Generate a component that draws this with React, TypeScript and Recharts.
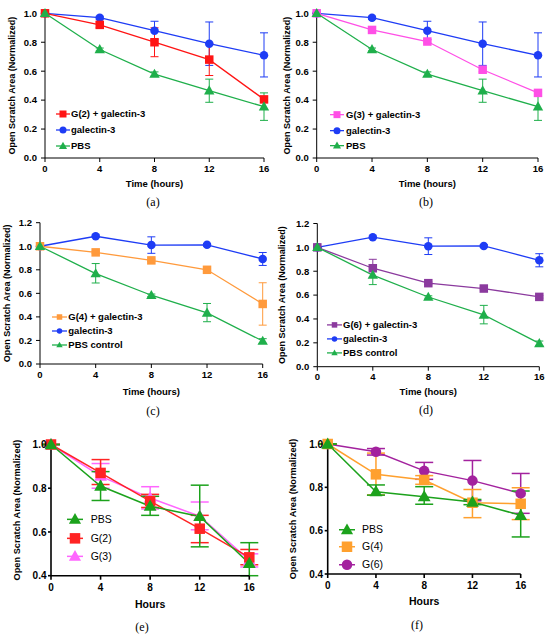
import React from 'react';
import { LineChart, Line, XAxis, YAxis, ErrorBar, Legend, Label } from 'recharts';

const FONT = '"Liberation Sans", Arial, Helvetica, sans-serif';
const SERIF = '"Liberation Serif", "Times New Roman", serif';

// ---------- shared axes ----------
const hours = [0, 4, 8, 12, 16];
const xTicks = [0, 4, 8, 12, 16];
const yTicksAB = [0, 0.2, 0.4, 0.6, 0.8, 1.0];
const yTicksCD = [0, 0.2, 0.4, 0.6, 0.8, 1.0, 1.2];
const yTicksEF = [0.4, 0.6, 0.8, 1.0];

// ---------- panels (a), (b) ----------
const galAB = [1.0, 0.97, 0.88, 0.79, 0.71];
const galABErr = [[0, 0], [0.01, 0.01], [0.06, 0.065], [0.15, 0.15], [0.15, 0.155]];
const pbsAB = [1.0, 0.75, 0.58, 0.465, 0.355];
const pbsABErr = [[0, 0], [0.01, 0.01], [0.015, 0.015], [0.08, 0.08], [0.095, 0.095]];
const g2Gal = [1.0, 0.92, 0.8, 0.68, 0.405];
const g2GalErr = [[0, 0], [0.02, 0.02], [0.1, 0.1], [0.11, 0.11], [0.02, 0.02]];
const g3Gal = [1.0, 0.885, 0.805, 0.61, 0.45];
const g3GalErr = [[0, 0], [0.01, 0.01], [0.01, 0.01], [0.015, 0.015], [0.01, 0.01]];

// ---------- panels (c), (d) ----------
const galCD = [1.0, 1.085, 1.01, 1.012, 0.892];
const galCDErr = [[0, 0], [0.01, 0.01], [0.07, 0.07], [0.01, 0.01], [0.055, 0.055]];
const pbsCD = [1.0, 0.768, 0.584, 0.434, 0.195];
const pbsCDErr = [[0, 0], [0.08, 0.085], [0.01, 0.01], [0.075, 0.08], [0.02, 0.02]];
const g4Gal = [1.0, 0.948, 0.88, 0.8, 0.51];
const g4GalErr = [[0, 0], [0.01, 0.01], [0.01, 0.01], [0.01, 0.01], [0.18, 0.18]];
const g6Gal = [1.0, 0.825, 0.7, 0.655, 0.585];
const g6GalErr = [[0, 0], [0.075, 0.075], [0.01, 0.01], [0.01, 0.01], [0.01, 0.01]];

// ---------- panel (e) ----------
const pbsE = [1.0, 0.81, 0.718, 0.671, 0.456];
const pbsEErr = [[0, 0], [0.066, 0.066], [0.042, 0.045], [0.139, 0.143], [0.056, 0.095]];
const g2E = [1.0, 0.87, 0.741, 0.615, 0.484];
const g2EErr = [[0, 0], [0.053, 0.061], [0.029, 0.031], [0.064, 0.061], [0.034, 0.036]];
const g3E = [1.0, 0.855, 0.755, 0.672, 0.47];
const g3EErr = [[0, 0], [0.055, 0.058], [0.05, 0.052], [0.062, 0.065], [0.03, 0.03]];

// ---------- panel (f) ----------
const pbsF = [1.0, 0.78, 0.757, 0.732, 0.671];
const pbsFErr = [[0, 0], [0.016, 0.031], [0.035, 0.046], [0.012, 0.012], [0.1, 0.112]];
const g4F = [1.0, 0.86, 0.834, 0.729, 0.724];
const g4FErr = [[0, 0], [0.095, 0.098], [0.02, 0.02], [0.069, 0.061], [0.073, 0.074]];
const g6F = [1.0, 0.964, 0.876, 0.831, 0.772];
const g6FErr = [[0, 0], [0.015, 0.015], [0.039, 0.039], [0.093, 0.093], [0.092, 0.092]];

// ---------- colours ----------
const RED = '#FF1414';
const BLUE = '#1E3CF5';
const GREEN = '#1FAF4B';
const MAGENTA = '#FF4FE6';
const ORANGE = '#FF9A3C';
const PURPLE = '#8B3A9E';
const GREEN_P = '#1CA21C';
const RED_P = '#FF2424';
const MAGENTA_P = '#FF66FF';
const ORANGE_P = '#FFA02E';
const PURPLE_P = '#A3229E';

type Shape = 'square' | 'circle' | 'triangle';
type Series = { name: string; color: string; shape: Shape; values: number[]; errors: number[][] };

function Marker({ shape, cx, cy, size, color }: { shape: Shape; cx: number; cy: number; size: number; color: string }) {
  if (shape === 'square') {
    return <rect x={cx - size / 2} y={cy - size / 2} width={size} height={size} fill={color} />;
  }
  if (shape === 'circle') {
    return <circle cx={cx} cy={cy} r={size / 2} fill={color} />;
  }
  const h = size * 1.0;
  return (
    <polygon
      points={`${cx},${cy - h * 0.6} ${cx - size * 0.58},${cy + h * 0.42} ${cx + size * 0.58},${cy + h * 0.42}`}
      fill={color}
    />
  );
}

function makeDot(shape: Shape, size: number, color: string) {
  return (p: any) => {
    const { cx, cy, index } = p;
    if (typeof cx !== 'number' || typeof cy !== 'number') return <g key={`n${index}`} />;
    return (
      <g key={`d${index}`}>
        <Marker shape={shape} cx={cx} cy={cy} size={size} color={color} />
      </g>
    );
  };
}

function YTitle(props: any) {
  const vb = props.viewBox || { x: 0, y: 0, width: 0, height: 0 };
  const x = vb.x + props.cxOff;
  const y = vb.y + vb.height / 2;
  return (
    <text
      x={x}
      y={y}
      transform={`rotate(-90 ${x} ${y})`}
      textAnchor="middle"
      dominantBaseline="central"
      fill="#000"
      style={{ fontFamily: FONT, fontSize: props.size, fontWeight: 'bold' }}
    >
      {props.text}
    </text>
  );
}

function XTitle(props: any) {
  const vb = props.viewBox || { x: 0, y: 0, width: 0, height: 0 };
  const x = vb.x + vb.width / 2;
  const y = vb.y + vb.height;
  return (
    <text x={x} y={y} textAnchor="middle" fill="#000" style={{ fontFamily: FONT, fontSize: props.size, fontWeight: 'bold' }}>
      {props.text}
    </text>
  );
}

type LegendCfg = {
  top: number;
  rowH: number;
  iconLeft: number;
  iconW: number;
  textLeft: number;
  markerSize: number;
  fontSize: number;
  bold: boolean;
  lineW: number;
};

function LegendBox({ items, cfg }: { items: Series[]; cfg: LegendCfg }) {
  return (
    <div style={{ fontFamily: FONT, fontSize: cfg.fontSize, fontWeight: cfg.bold ? 'bold' : 'normal', color: '#000' }}>
      {items.map((it) => (
        <div key={it.name} style={{ position: 'relative', height: cfg.rowH, whiteSpace: 'nowrap' }}>
          <svg width={cfg.iconW} height={cfg.rowH} style={{ position: 'absolute', left: 0, top: 0, overflow: 'visible' }}>
            <line x1={0} x2={cfg.iconW} y1={cfg.rowH / 2} y2={cfg.rowH / 2} stroke={it.color} strokeWidth={cfg.lineW} />
            <Marker shape={it.shape} cx={cfg.iconW / 2} cy={cfg.rowH / 2} size={cfg.markerSize} color={it.color} />
          </svg>
          <span
            style={{
              position: 'absolute',
              left: cfg.textLeft - cfg.iconLeft,
              top: 0,
              lineHeight: `${cfg.rowH}px`,
            }}
          >
            {it.name}
          </span>
        </div>
      ))}
    </div>
  );
}

type PanelCfg = {
  left: number;
  top: number;
  W: number;
  H: number;
  plotLeft: number;
  plotRight: number;
  plotTop: number;
  plotBottom: number;
  baseline: number;
  yTitleX: number;
  domain: [number, number];
  yTicks: number[];
  xTitle: string;
  series: Series[];
  legendOrder: Series[];
  legend: LegendCfg;
  caption: string;
  captionX: number;
  captionY: number;
  prism: boolean;
};

function Panel({ cfg }: { cfg: PanelCfg }) {
  const data = hours.map((h, i) => {
    const row: any = { h };
    cfg.series.forEach((s, j) => {
      row[`v${j}`] = s.values[i];
      row[`e${j}`] = s.errors[i];
    });
    return row;
  });
  const xAxisH = cfg.baseline - cfg.plotBottom;
  const margin = { top: cfg.plotTop, right: cfg.W - cfg.plotRight, bottom: cfg.H - cfg.baseline, left: 0 };
  const p = cfg.prism;
  const tickStyle = { fontFamily: FONT, fontSize: p ? 10 : 9.5, fontWeight: 'bold', fill: '#000' } as any;
  const axisW = p ? 1.6 : 1;
  const markerSize = p ? 10.5 : 8.5;
  const lineW = p ? 1.5 : 1.3;
  return (
    <div style={{ position: 'absolute', left: cfg.left, top: cfg.top, width: cfg.W, height: cfg.H }}>
      <LineChart width={cfg.W} height={cfg.H} data={data} margin={margin}>
        <XAxis
          dataKey="h"
          type="number"
          domain={[0, 16]}
          ticks={xTicks}
          height={xAxisH}
          tick={tickStyle}
          tickSize={p ? 4 : 4}
          tickMargin={p ? 4 : 3}
          axisLine={{ stroke: '#000', strokeWidth: axisW }}
          tickLine={{ stroke: '#000', strokeWidth: axisW }}
          interval={0}
        >
          <Label content={<XTitle text={cfg.xTitle} size={p ? 10.5 : 9.5} />} />
        </XAxis>
        <YAxis
          type="number"
          domain={cfg.domain}
          ticks={cfg.yTicks}
          width={cfg.plotLeft}
          tick={tickStyle}
          tickSize={p ? 3 : 4}
          tickMargin={p ? 1.5 : 4}
          tickFormatter={(v: number) => v.toFixed(1)}
          axisLine={{ stroke: '#000', strokeWidth: axisW }}
          tickLine={{ stroke: '#000', strokeWidth: axisW }}
          interval={0}
        >
          <Label content={<YTitle text="Open Scratch Area (Normalized)" cxOff={cfg.yTitleX} size={p ? 9.2 : 9} />} />
        </YAxis>
        {cfg.series.map((s, j) => (
          <Line
            key={s.name}
            name={s.name}
            dataKey={`v${j}`}
            type="linear"
            stroke={s.color}
            strokeWidth={lineW}
            dot={makeDot(s.shape, s.shape === 'triangle' ? markerSize * 1.05 : markerSize, s.color)}
            activeDot={false}
            isAnimationActive={false}
          >
            <ErrorBar
              dataKey={`e${j}`}
              direction="y"
              width={p ? 9 : 4}
              stroke={s.color}
              strokeWidth={p ? 1.5 : 1}
              isAnimationActive={false}
            />
          </Line>
        ))}
        <Legend
          layout="vertical"
          align="center"
          verticalAlign="middle"
          content={() => <LegendBox items={cfg.legendOrder} cfg={cfg.legend} />}
          wrapperStyle={{ left: cfg.legend.iconLeft, top: cfg.legend.top, width: 'auto', height: 'auto' }}
        />
      </LineChart>
    </div>
  );
}

const sG2: Series = { name: 'G(2) + galectin-3', color: RED, shape: 'square', values: g2Gal, errors: g2GalErr };
const sG3: Series = { name: 'G(3) + galectin-3', color: MAGENTA, shape: 'square', values: g3Gal, errors: g3GalErr };
const sGalAB: Series = { name: 'galectin-3', color: BLUE, shape: 'circle', values: galAB, errors: galABErr };
const sPbsAB: Series = { name: 'PBS', color: GREEN, shape: 'triangle', values: pbsAB, errors: pbsABErr };
const sG4: Series = { name: 'G(4) + galectin-3', color: ORANGE, shape: 'square', values: g4Gal, errors: g4GalErr };
const sG6: Series = { name: 'G(6) + galectin-3', color: PURPLE, shape: 'square', values: g6Gal, errors: g6GalErr };
const sGalCD: Series = { name: 'galectin-3', color: BLUE, shape: 'circle', values: galCD, errors: galCDErr };
const sPbsCD: Series = { name: 'PBS control', color: GREEN, shape: 'triangle', values: pbsCD, errors: pbsCDErr };
const sPbsE: Series = { name: 'PBS', color: GREEN_P, shape: 'triangle', values: pbsE, errors: pbsEErr };
const sG2E: Series = { name: 'G(2)', color: RED_P, shape: 'square', values: g2E, errors: g2EErr };
const sG3E: Series = { name: 'G(3)', color: MAGENTA_P, shape: 'triangle', values: g3E, errors: g3EErr };
const sPbsF: Series = { name: 'PBS', color: GREEN_P, shape: 'triangle', values: pbsF, errors: pbsFErr };
const sG4F: Series = { name: 'G(4)', color: ORANGE_P, shape: 'square', values: g4F, errors: g4FErr };
const sG6F: Series = { name: 'G(6)', color: PURPLE_P, shape: 'circle', values: g6F, errors: g6FErr };

const smallLegend = (top: number, rowH: number, iconLeft: number, iconW: number, textLeft: number, ms: number): LegendCfg => ({
  top,
  rowH,
  iconLeft,
  iconW,
  textLeft,
  markerSize: ms,
  fontSize: 9.5,
  bold: true,
  lineW: 1.3,
});

const panels: PanelCfg[] = [
  {
    left: 0, top: 0, W: 275, H: 192,
    plotLeft: 45, plotRight: 264, plotTop: 13.3, plotBottom: 158, baseline: 187, yTitleX: 12,
    domain: [0, 1.0], yTicks: yTicksAB, xTitle: 'Time (hours)',
    series: [sGalAB, sG2, sPbsAB], legendOrder: [sG2, sGalAB, sPbsAB],
    legend: smallLegend(106, 16, 56, 14, 71, 7),
    caption: '(a)', captionX: 153, captionY: 202, prism: false,
  },
  {
    left: 275, top: 0, W: 275, H: 192,
    plotLeft: 41.7, plotRight: 263, plotTop: 13.3, plotBottom: 158, baseline: 187, yTitleX: 12.3,
    domain: [0, 1.0], yTicks: yTicksAB, xTitle: 'Time (hours)',
    series: [sGalAB, sG3, sPbsAB], legendOrder: [sG3, sGalAB, sPbsAB],
    legend: smallLegend(107.3, 15.3, 55, 14, 71, 7),
    caption: '(b)', captionX: 426, captionY: 202, prism: false,
  },
  {
    left: 0, top: 210, W: 275, H: 190,
    plotLeft: 40, plotRight: 262.7, plotTop: 12.7, plotBottom: 154, baseline: 185.2, yTitleX: 7.3,
    domain: [0, 1.2], yTicks: yTicksCD, xTitle: 'Time (hours)',
    series: [sGalCD, sG4, sPbsCD], legendOrder: [sG4, sGalCD, sPbsCD],
    legend: smallLegend(100, 14, 52, 15, 68.3, 5.5),
    caption: '(c)', captionX: 153, captionY: 411, prism: false,
  },
  {
    left: 275, top: 210, W: 275, H: 190,
    plotLeft: 42.3, plotRight: 264.3, plotTop: 13.5, plotBottom: 156.7, baseline: 185.2, yTitleX: 7.3,
    domain: [0, 1.2], yTicks: yTicksCD, xTitle: 'Time (hours)',
    series: [sGalCD, sG6, sPbsCD], legendOrder: [sG6, sGalCD, sPbsCD],
    legend: smallLegend(108, 13.8, 52, 15, 68, 5.5),
    caption: '(d)', captionX: 426, captionY: 410, prism: false,
  },
  {
    left: 0, top: 420, W: 275, H: 195,
    plotLeft: 51, plotRight: 249.3, plotTop: 24.5, plotBottom: 155.7, baseline: 187.7, yTitleX: 17.3,
    domain: [0.4, 1.0], yTicks: yTicksEF, xTitle: 'Hours',
    series: [sG3E, sG2E, sPbsE], legendOrder: [sPbsE, sG2E, sG3E],
    legend: { top: 90, rowH: 18.7, iconLeft: 67, iconW: 16, textLeft: 90.7, markerSize: 10.5, fontSize: 10.5, bold: false, lineW: 1.5 },
    caption: '(e)', captionX: 142, captionY: 627, prism: true,
  },
  {
    left: 275, top: 420, W: 275, H: 195,
    plotLeft: 52.7, plotRight: 245.7, plotTop: 24, plotBottom: 154, baseline: 185.4, yTitleX: 18.3,
    domain: [0.4, 1.0], yTicks: yTicksEF, xTitle: 'Hours',
    series: [sG6F, sG4F, sPbsF], legendOrder: [sPbsF, sG4F, sG6F],
    legend: { top: 100.5, rowH: 17.5, iconLeft: 64, iconW: 16, textLeft: 87, markerSize: 10.5, fontSize: 10.5, bold: false, lineW: 1.5 },
    caption: '(f)', captionX: 417, captionY: 625, prism: true,
  },
];

export default function App() {
  return (
    <div style={{ position: 'absolute', left: 0, top: 0, width: 550, height: 637, background: '#fff', overflow: 'hidden' }}>
      {panels.map((cfg) => (
        <Panel key={cfg.caption} cfg={cfg} />
      ))}
      {panels.map((cfg) => (
        <div
          key={`c${cfg.caption}`}
          style={{
            position: 'absolute',
            left: cfg.captionX - 20,
            top: cfg.captionY - 8,
            width: 40,
            height: 16,
            lineHeight: '16px',
            textAlign: 'center',
            fontFamily: SERIF,
            fontSize: 12,
            color: '#000',
          }}
        >
          {cfg.caption}
        </div>
      ))}
    </div>
  );
}
